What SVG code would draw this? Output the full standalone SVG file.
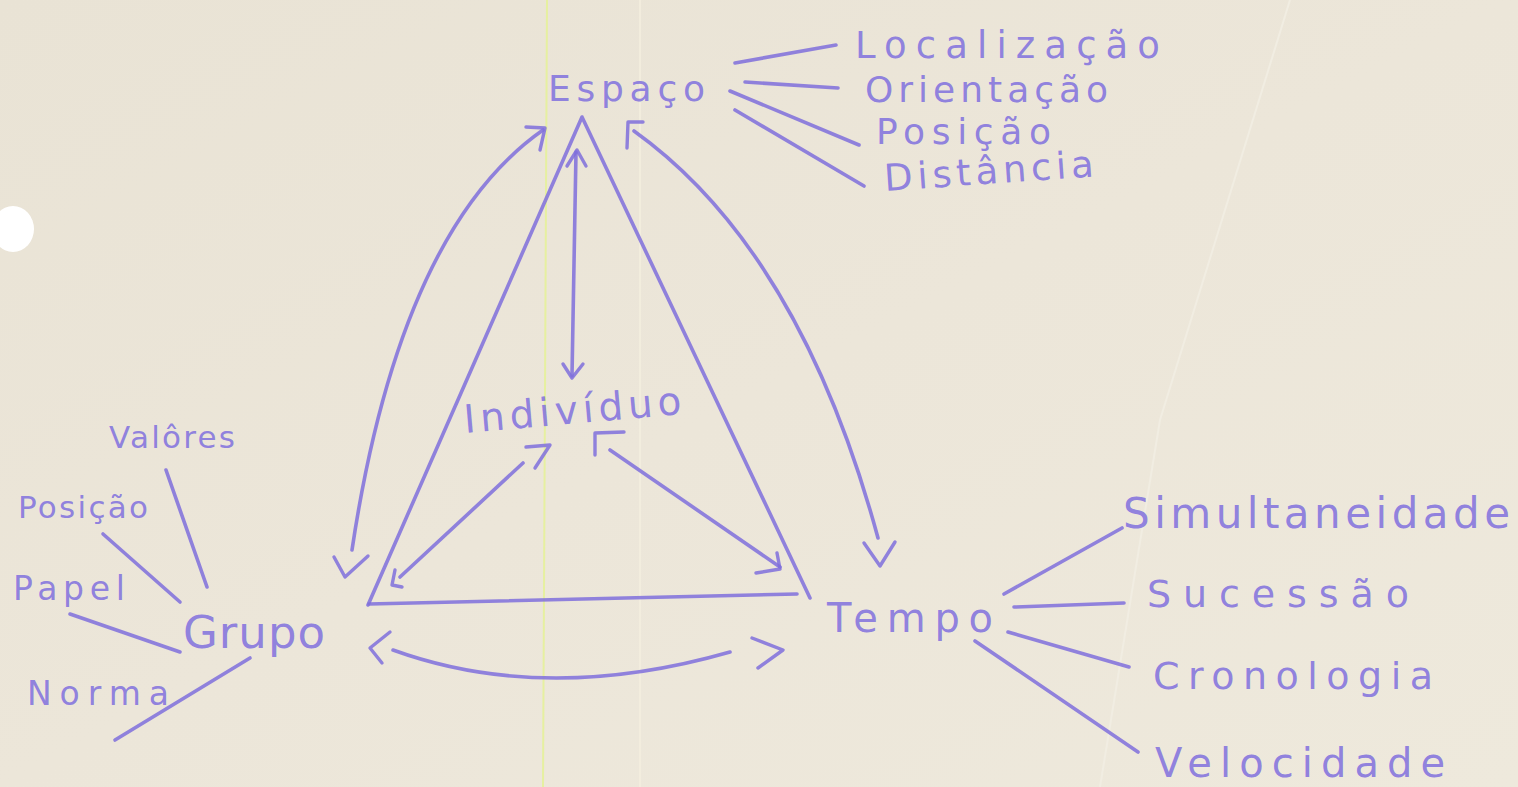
<svg xmlns="http://www.w3.org/2000/svg" width="1518" height="787" viewBox="0 0 1518 787">
<style>
.ink{fill:none;stroke:#7f6fdc;stroke-width:3.6;stroke-linecap:round;stroke-linejoin:round;stroke-opacity:.85}
.ah{fill:none;stroke:#7f6fdc;stroke-width:3.4;stroke-linecap:round;stroke-linejoin:round;stroke-opacity:.85}
.t{font-family:"DejaVu Sans","Liberation Sans",sans-serif;fill:#8474de;fill-opacity:.9}
</style>
<defs>
<linearGradient id="paper" x1="0" y1="0" x2="1" y2="1">
<stop offset="0" stop-color="#e9e3d5"/>
<stop offset="0.5" stop-color="#ece6d9"/>
<stop offset="1" stop-color="#eee9dc"/>
</linearGradient>
</defs>
<rect width="1518" height="787" fill="url(#paper)"/>
<line x1="547" y1="0" x2="543" y2="787" stroke="#e6f0a0" stroke-width="2"/>
<line x1="640" y1="0" x2="640" y2="787" stroke="#f4efdf" stroke-width="1.5"/>
<path d="M1290,0 L1160,420 L1100,787" fill="none" stroke="#f1ede2" stroke-width="2"/>
<ellipse cx="13" cy="229" rx="21" ry="23" fill="#ffffff"/>

<g id="connectors">
  <!-- Espaço spokes -->
  <line class="ink" x1="735" y1="63" x2="836" y2="45"/>
  <line class="ink" x1="745" y1="82" x2="838" y2="88"/>
  <line class="ink" x1="730" y1="91" x2="859" y2="145"/>
  <line class="ink" x1="735" y1="110" x2="864" y2="186"/>
  <!-- Grupo spokes -->
  <line class="ink" x1="166" y1="470" x2="207" y2="587"/>
  <line class="ink" x1="103" y1="534" x2="180" y2="602"/>
  <line class="ink" x1="70" y1="614" x2="180" y2="652"/>
  <line class="ink" x1="115" y1="740" x2="250" y2="658"/>
  <!-- Tempo spokes -->
  <line class="ink" x1="1004" y1="594" x2="1122" y2="528"/>
  <line class="ink" x1="1014" y1="607" x2="1124" y2="603"/>
  <line class="ink" x1="1008" y1="632" x2="1129" y2="667"/>
  <line class="ink" x1="975" y1="641" x2="1138" y2="752"/>
  <!-- triangle -->
  <path class="ink" d="M368,605 L582,117 L810,598"/>
  <path class="ink" d="M369,604 L797,594"/>
  <!-- Espaço - Indivíduo -->
  <line class="ink" x1="576" y1="152" x2="572" y2="376"/>
  <polyline class="ah" points="567,166 577,150 586,166"/>
  <polyline class="ah" points="563,364 572,378 583,364"/>
  <!-- Espaço - Grupo (outer left curve) -->
  <path class="ink" d="M543,130 Q400,230 352,550"/>
  <polyline class="ah" points="526,127 545,128 540,150"/>
  <polyline class="ah" points="334,557 345,577 368,556"/>
  <!-- Espaço - Tempo (outer right curve) -->
  <path class="ink" d="M634,131 Q800,250 878,538"/>
  <polyline class="ah" points="643,122 628,122 627,148"/>
  <polyline class="ah" points="864,543 880,566 895,542"/>
  <!-- Indivíduo - Grupo -->
  <line class="ink" x1="523" y1="463" x2="400" y2="577"/>
  <polyline class="ah" points="526,447 550,445 535,468"/>
  <polyline class="ah" points="395,570 392,585 402,587"/>
  <!-- Indivíduo - Tempo -->
  <line class="ink" x1="610" y1="450" x2="780" y2="567"/>
  <polyline class="ah" points="624,432 595,433 595,455"/>
  <polyline class="ah" points="777,553 780,569 756,573"/>
  <!-- Grupo - Tempo -->
  <path class="ink" d="M393,650 Q545,705 730,652"/>
  <polyline class="ah" points="390,632 370,648 382,663"/>
  <polyline class="ah" points="752,638 783,650 758,668"/>
</g>

<g id="espaco"><text class="t" x="548" y="101" font-size="36" textLength="157" lengthAdjust="spacing">Espaço</text></g>
<g id="localizacao"><text class="t" x="855" y="58" font-size="37" textLength="305" lengthAdjust="spacing">Localização</text></g>
<g id="orientacao"><text class="t" x="865" y="102" font-size="36" textLength="243" lengthAdjust="spacing">Orientação</text></g>
<g id="posicao-espaco"><text class="t" x="876" y="144" font-size="36" textLength="175" lengthAdjust="spacing">Posição</text></g>
<g id="distancia"><text class="t" x="885" y="191" font-size="37" textLength="210" lengthAdjust="spacing" transform="rotate(-4 885 191)">Distância</text></g>

<g id="individuo"><text class="t" x="465" y="433" font-size="39" textLength="218" lengthAdjust="spacing" transform="rotate(-5 465 433)">Indivíduo</text></g>

<g id="grupo"><text class="t" x="183" y="648" font-size="45" textLength="142" lengthAdjust="spacing">Grupo</text></g>
<g id="valores"><text class="t" x="109" y="448" font-size="31" textLength="126" lengthAdjust="spacing">Valôres</text></g>
<g id="posicao-grupo"><text class="t" x="18" y="518" font-size="31" textLength="130" lengthAdjust="spacing">Posição</text></g>
<g id="papel"><text class="t" x="13" y="600" font-size="33" textLength="112" lengthAdjust="spacing">Papel</text></g>
<g id="norma"><text class="t" x="27" y="705" font-size="33" textLength="142" lengthAdjust="spacing">Norma</text></g>

<g id="tempo"><text class="t" x="827" y="632" font-size="40" textLength="166" lengthAdjust="spacing">Tempo</text></g>
<g id="simultaneidade"><text class="t" x="1123" y="528" font-size="42" textLength="387" lengthAdjust="spacing">Simultaneidade</text></g>
<g id="sucessao"><text class="t" x="1147" y="607" font-size="38" textLength="262" lengthAdjust="spacing">Sucessão</text></g>
<g id="cronologia"><text class="t" x="1153" y="689" font-size="38" textLength="280" lengthAdjust="spacing">Cronologia</text></g>
<g id="velocidade"><text class="t" x="1155" y="777" font-size="40" textLength="290" lengthAdjust="spacing">Velocidade</text></g>
</svg>
